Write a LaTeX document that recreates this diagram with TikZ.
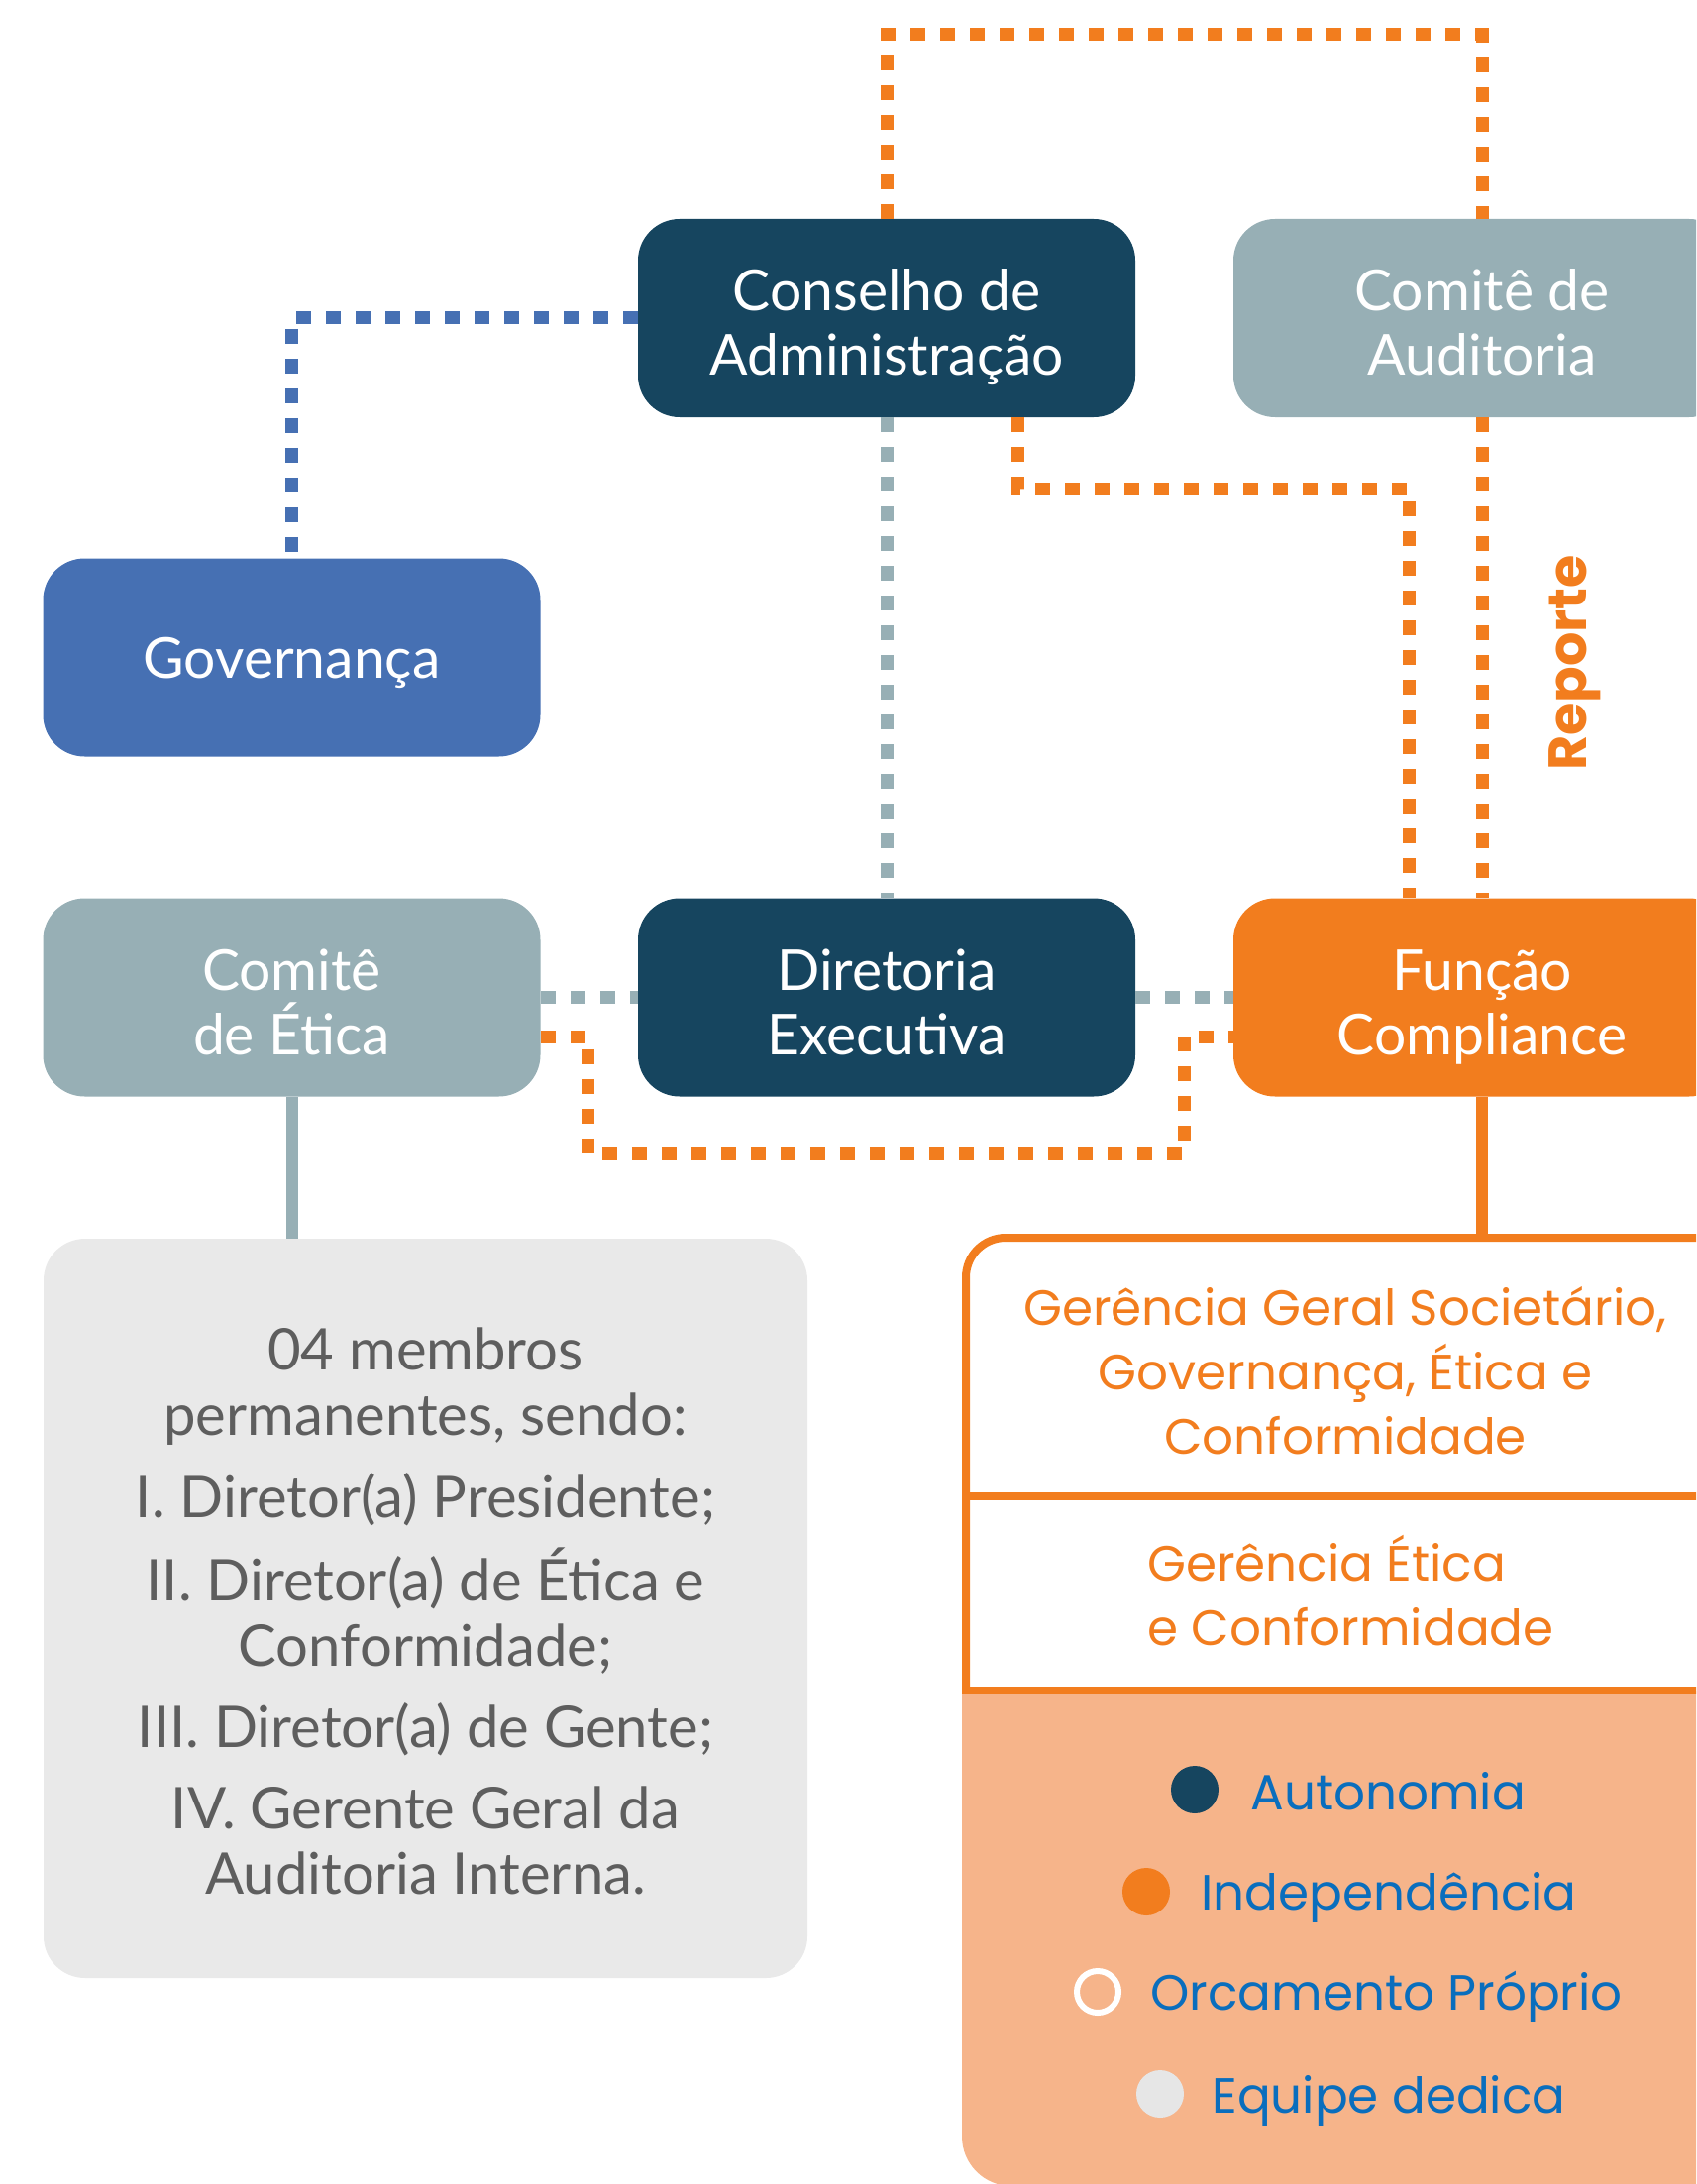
\documentclass[tikz,border=0pt]{standalone}
\usepackage{fontspec}
\setmainfont{Lato}
\newfontfamily\popp{Poppins}
\definecolor{navy}{HTML}{16455F}
\definecolor{grayblue}{HTML}{97AFB5}
\definecolor{govblue}{HTML}{4670B3}
\definecolor{orng}{HTML}{F27D1E}
\definecolor{lorng}{HTML}{F6B48A}
\definecolor{lgray}{HTML}{E9E9E9}
\definecolor{legblue}{HTML}{0A6EBD}
\definecolor{txtgray}{HTML}{5E5E5E}
\definecolor{dotgray}{HTML}{E6E6E6}
\tikzset{
  orgbox/.style={rounded corners=21pt, minimum width=251pt, minimum height=100pt,
    text=white, align=center, inner sep=0pt, font=\fontsize{28.5}{32.5}\selectfont,
    text height=57.5pt, text depth=0pt},
  onebox/.style={orgbox, text height=21pt, text depth=0pt},
  dotline/.style={line width=6.5pt, dash pattern=on 7.5pt off 7.5pt},
  solidline/.style={line width=6pt},
  graytxt/.style={text=txtgray, align=center, inner sep=0pt, font=\fontsize{29}{33}\selectfont},
  oratxt/.style={text=orng, inner sep=0pt, font=\popp\fontsize{25}{32.5}\selectfont},
  legtxt/.style={text=legblue, inner sep=0pt, anchor=base west, font=\popp\fontsize{25}{30}\selectfont},
  legdot/.style={circle, inner sep=0pt, minimum size=24pt}
}
\begin{document}
\begin{tikzpicture}[x=0.5pt,y=-0.5pt]
\useasboundingbox (0,0) rectangle (1712,2204);
\clip (0,0) rectangle (1712,2204);

% boxes
\node[orgbox, fill=navy] (cons) at (895,321) {Conselho de\\Administração};
\node[orgbox, fill=grayblue] (aud) at (1496,321) {Comitê de\\Auditoria};
\node[onebox, fill=govblue] (gov) at (294.5,663.5) {Governança};
\node[orgbox, fill=grayblue] (etica) at (294.5,1006.5) {Comitê\\de Ética};
\node[orgbox, fill=navy] (dir) at (895,1006.5) {Diretoria\\Executiva};
\node[orgbox, fill=orng] (func) at (1496,1006.5) {Função\\Compliance};

% gray members box
\node[fill=lgray, rounded corners=21pt, minimum width=385.5pt, minimum height=373pt, inner sep=0pt] (memb) at (429.5,1623) {};
\node[graytxt] (m1) at (429.5,1399) {04 membros\\permanentes, sendo:};
\node[graytxt] (m2) at (429.5,1513) {I. Diretor(a) Presidente;};
\node[graytxt] (m3) at (429.5,1626) {II. Diretor(a) de Ética e\\Conformidade;};
\node[graytxt] (m4) at (429.5,1745) {III. Diretor(a) de Gente;};
\node[graytxt] (m5) at (429.5,1857) {IV. Gerente Geral da\\Auditoria Interna.};

% orange structure box
\node[minimum width=400pt, minimum height=480pt, inner sep=0pt, anchor=north west] (obox) at (971,1245) {};
\fill[lorng] (971,1706) [rounded corners=25pt] -- (971,2206) -- (1800,2206) [sharp corners] -- (1800,1706) -- cycle;
\draw[orng, line width=4pt, rounded corners=20pt] (975,1706) -- (975,1249) -- (1800,1249);
\draw[orng, line width=4pt] (971,1510) -- (1800,1510);
\draw[orng, line width=4pt] (971,1706) -- (1800,1706);
\node[oratxt, align=center] (g1) at (1358,1383) {Gerência Geral Societário,\\Governança, Ética e\\Conformidade};
\node[oratxt, align=left, anchor=west] (g2) at (1158,1605) {Gerência Ética\\e Conformidade};

% legend
\node[legdot, fill=navy] (d1) at (1206,1806) {};
\node[legdot, fill=orng] (d2) at (1157,1909) {};
\node[legdot, draw=white, line width=3pt, minimum size=21pt] (d3) at (1108,2010) {};
\node[legdot, fill=dotgray] (d4) at (1171,2113) {};
\node[legtxt] (l1) at (1262,1826) {Autonomia};
\node[legtxt] (l2) at (1212,1927) {Independência};
\node[legtxt] (l3) at (1161,2028) {Orcamento Próprio};
\node[legtxt] (l4) at (1223,2132) {Equipe dedica};

% connectors
\coordinate (t1) at (895,35);
\coordinate (k1) at (1027,493);
\coordinate (k2) at (1422,493);
\coordinate (e1) at (593,1046);
\coordinate (e2) at (593,1164);
\coordinate (e3) at (1195,1164);
\coordinate (e4) at (1195,1046);

\draw[dotline, govblue] (cons.west) -| (gov.north);
\draw[dotline, grayblue] (cons.south) -- (dir.north);
\draw[dotline, orng] (cons.north) -- (t1) -| (aud.north);
\draw[dotline, orng] (cons.south -| k1) -- (k1) -- (k2) -- (func.north -| k2);
\draw[dotline, orng] (aud.south) -- (func.north);
\draw[dotline, grayblue] (etica.east) -- (dir.west);
\draw[dotline, grayblue] (dir.east) -- (func.west);
\draw[dotline, orng] (etica.east |- e1) -- (e1) -- (e2) -- (e3) -- (e4) -- (func.west |- e4);
\draw[solidline, grayblue] (etica.south) -- (memb.north -| etica.south);
\draw[solidline, orng] (func.south) -- (obox.north -| func.south);

\node[rotate=90, text=orng, font=\popp\bfseries\fontsize{27}{30}\selectfont] (rep) at (1590,669) {Reporte};
\end{tikzpicture}
\end{document}
